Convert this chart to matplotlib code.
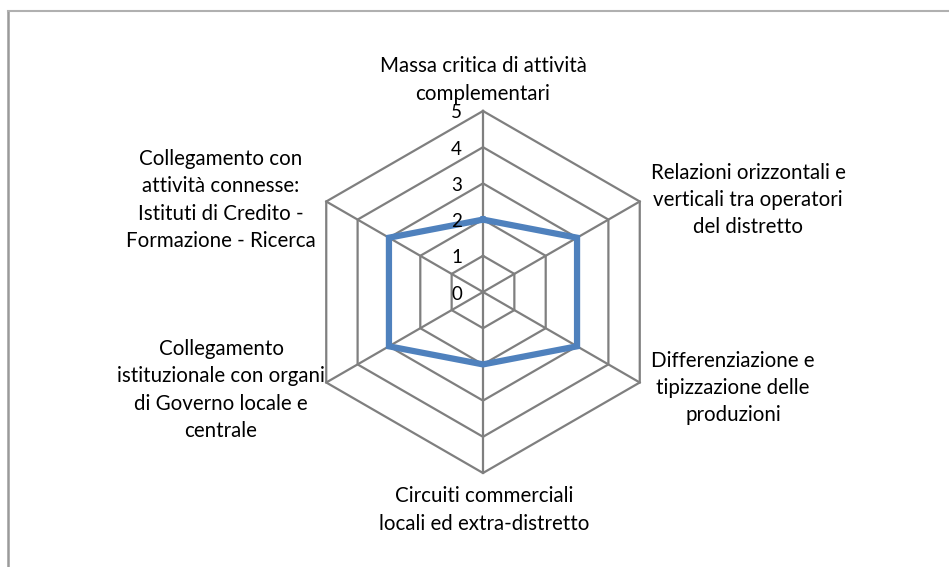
import numpy as np
import matplotlib
matplotlib.use("Agg")
import matplotlib.pyplot as plt
from matplotlib.lines import Line2D

plt.rcParams['font.family'] = ['Lato', 'DejaVu Sans']

categories = [
    "Massa critica di attività\ncomplementari",
    "Relazioni orizzontali e\nverticali tra operatori\ndel distretto",
    "Differenziazione e\ntipizzazione delle\nproduzioni",
    "Circuiti commerciali\nlocali ed extra-distretto",
    "Collegamento\nistituzionale con organi\ndi Governo locale e\ncentrale",
    "Collegamento con\nattività connesse:\nIstituti di Credito -\nFormazione - Ricerca",
]
values = [2, 3, 3, 2, 3, 3]
tick_levels = [0, 1, 2, 3, 4, 5]
tick_labels = ["0", "1", "2", "3", "4", "5"]

W, H = 949, 567
fig = plt.figure(figsize=(W / 100, H / 100), dpi=100)

cx, cy, R = 483, 292, 181
ax = fig.add_axes([(cx - R) / W, 1 - (cy + R) / H, 2 * R / W, 2 * R / H], projection='polar')
ax.set_theta_zero_location('N')
ax.set_theta_direction(-1)
ax.set_ylim(0, 5)
ax.grid(False)
ax.spines['polar'].set_visible(False)
ax.set_xticks([])
ax.set_yticks([])
ax.patch.set_visible(False)

n = len(categories)
angles = np.arange(n) * 2 * np.pi / n
closed = np.concatenate([angles, angles[:1]])

grid_color = '#7f7f7f'
for lv in tick_levels[1:]:
    ax.plot(closed, [lv] * (n + 1), color=grid_color, lw=1.6, zorder=1, clip_on=False)
for a in angles:
    ax.plot([a, a], [0, tick_levels[-1]], color=grid_color, lw=1.6, zorder=1, clip_on=False)

vals = values + values[:1]
ax.plot(closed, vals, color='#4F81BD', lw=4.5, zorder=3, solid_joinstyle='miter', clip_on=False)

for lv, lab in zip(tick_levels, tick_labels):
    ax.annotate(lab, xy=(0, lv), xytext=(-21, -2), textcoords='offset pixels',
                ha='right', va='center', fontsize=13.5, color='black', zorder=4)

# category label positions (pixel coordinates of label centers)
label_pos = [(483, 80), (748, 200), (733, 388), (484, 510), (221, 390), (221, 200)]
for lab, (px, py) in zip(categories, label_pos):
    fig.text(px / W, 1 - py / H, lab, ha='center', va='center', fontsize=14.8,
             linespacing=1.45, color='black')

# frame lines
fig.add_artist(Line2D([7.5 / W, 7.5 / W], [0, 1 - 11 / H], transform=fig.transFigure,
                      color='#9a9a9a', lw=1.8))
fig.add_artist(Line2D([7.5 / W, 1], [1 - 11 / H, 1 - 11 / H], transform=fig.transFigure,
                      color='#b0b0b0', lw=1.5))

fig.savefig('out.png', dpi=100)
